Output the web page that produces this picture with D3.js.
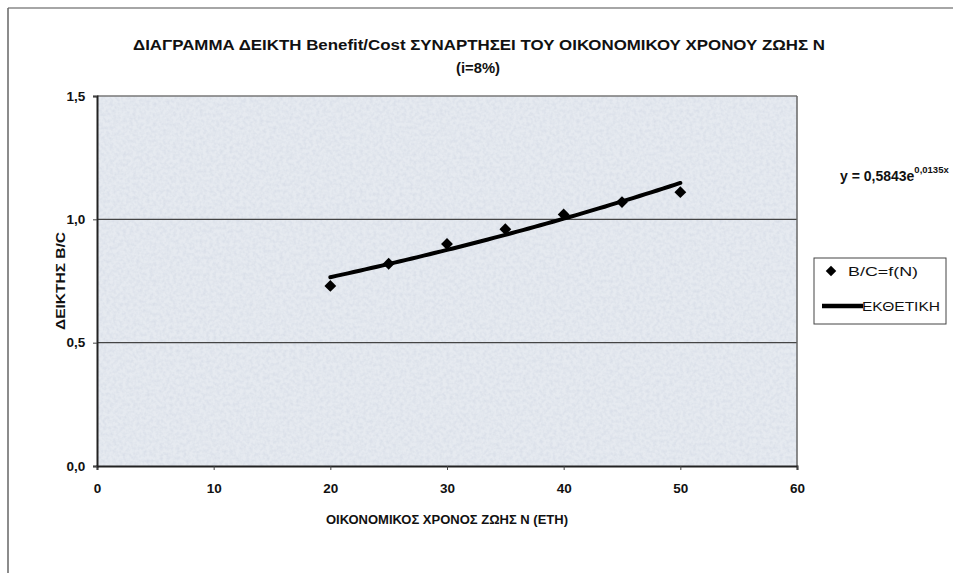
<!DOCTYPE html>
<html><head><meta charset="utf-8">
<script src="https://cdn.jsdelivr.net/npm/d3@7"></script>
<style>
html,body{margin:0;padding:0;background:#fff;}
svg{display:block;font-family:"Liberation Sans",Arial,sans-serif;}
</style></head>
<body>
<svg id="c" width="955" height="573"></svg>
<script>
// Data
const years = [20, 25, 30, 35, 40, 45, 50];
const bcValues = [0.73, 0.82, 0.90, 0.96, 1.02, 1.07, 1.11];
const xTicks = [0, 10, 20, 30, 40, 50, 60];
const yTicks = [0.0, 0.5, 1.0, 1.5];
const trendA = 0.5843;
const trendB = 0.0135;
const titleLines = ["ΔΙΑΓΡΑΜΜΑ ΔΕΙΚΤΗ Benefit/Cost ΣΥΝΑΡΤΗΣΕΙ ΤΟΥ ΟΙΚΟΝΟΜΙΚΟΥ ΧΡΟΝΟΥ ΖΩΗΣ Ν", "(i=8%)"];
const xLabel = "ΟΙΚΟΝΟΜΙΚΟΣ ΧΡΟΝΟΣ ΖΩΗΣ Ν (ΕΤΗ)";
const yLabel = "ΔΕΙΚΤΗΣ B/C";
const legendLabels = ["B/C=f(N)", "ΕΚΘΕΤΙΚΗ"];

const svg = d3.select("#c");
const L = 97, R = 797, T = 96, B = 466;
const x = d3.scaleLinear().domain([0, 60]).range([L, R]);
const y = d3.scaleLinear().domain([0, 1.5]).range([B, T]);
const fmt = d => d3.format(".1f")(d).replace(".", ",");

// outer frame (top + left)
svg.append("line").attr("x1",8).attr("x2",953).attr("y1",8).attr("y2",8).attr("stroke","#888").attr("stroke-width",1.5);
svg.append("line").attr("x1",8).attr("x2",8).attr("y1",8).attr("y2",573).attr("stroke","#666").attr("stroke-width",1.5);

// noise texture
const defs = svg.append("defs");
const f = defs.append("filter").attr("id","noise").attr("x",0).attr("y",0).attr("width","100%").attr("height","100%");
f.append("feTurbulence").attr("type","fractalNoise").attr("baseFrequency","0.3").attr("numOctaves",2).attr("seed",3).attr("result","t");
f.append("feColorMatrix").attr("in","t").attr("type","matrix")
 .attr("values","0 0 0 0 0.6  0 0 0 0 0.65  0 0 0 0 0.75  0 0 0 -1.3 0.85").attr("result","n");
f.append("feComposite").attr("in","n").attr("in2","SourceGraphic").attr("operator","in");

svg.append("rect").attr("x",L).attr("y",T).attr("width",R-L).attr("height",B-T).attr("fill","#e6eaf0");
svg.append("rect").attr("x",L).attr("y",T).attr("width",R-L).attr("height",B-T).attr("fill","#e6eaf0").attr("filter","url(#noise)").attr("opacity",0.7);

// gridlines
svg.append("g").selectAll("line").data(yTicks.filter(v => v > 0)).join("line")
  .attr("x1",L).attr("x2",R).attr("y1",d=>y(d)).attr("y2",d=>y(d))
  .attr("stroke",d => d===1.5 ? "#777" : "#444").attr("stroke-width",1.3);
// right border
svg.append("line").attr("x1",R).attr("x2",R).attr("y1",T).attr("y2",B).attr("stroke","#666").attr("stroke-width",1.5);

// axes
const xAxis = d3.axisBottom(x).tickValues(xTicks).tickSize(4).tickFormat(d3.format("d"));
const gx = svg.append("g").attr("transform",`translate(0,${B})`).call(xAxis);
gx.select(".domain").attr("stroke","#222").attr("stroke-width",2);
gx.selectAll(".tick line").attr("stroke","#444");
gx.selectAll("text").attr("font-size",13.5).attr("font-weight","bold").attr("fill","#111").attr("dy","1.5em");

const yAxis = d3.axisLeft(y).tickValues(yTicks).tickSize(4).tickFormat(fmt);
const gy = svg.append("g").attr("transform",`translate(${L},0)`).call(yAxis);
gy.select(".domain").attr("stroke","#222").attr("stroke-width",2);
gy.selectAll(".tick line").attr("stroke","#444");
gy.selectAll("text").attr("font-size",13.5).attr("font-weight","bold").attr("fill","#111").attr("dx","-0.35em");

// titles
svg.append("text").attr("x",479).attr("y",50).attr("text-anchor","middle").attr("font-size",14).attr("font-weight","bold").attr("fill","#111")
  .attr("textLength",692).attr("lengthAdjust","spacingAndGlyphs").text(titleLines[0]);
svg.append("text").attr("x",478).attr("y",73).attr("text-anchor","middle").attr("font-size",14).attr("font-weight","bold").attr("fill","#111")
  .attr("textLength",44).attr("lengthAdjust","spacingAndGlyphs").text(titleLines[1]);
svg.append("text").attr("x",447).attr("y",524).attr("text-anchor","middle").attr("font-size",13.5).attr("font-weight","bold").attr("fill","#111")
  .attr("textLength",242).attr("lengthAdjust","spacingAndGlyphs").text(xLabel);
svg.append("text").attr("transform","translate(65,281) rotate(-90)").attr("text-anchor","middle").attr("font-size",12.5).attr("font-weight","bold").attr("fill","#111")
  .attr("textLength",98).attr("lengthAdjust","spacingAndGlyphs").text(yLabel);

// trendline
const tx = d3.range(years[0], years[years.length-1] + 0.001, 0.5);
svg.append("path").datum(tx)
  .attr("d", d3.line().x(d=>x(d)).y(d=>y(trendA*Math.exp(trendB*d))))
  .attr("fill","none").attr("stroke","#000").attr("stroke-width",4).attr("stroke-linecap","round");

// markers
svg.append("g").selectAll("path").data(years).join("path")
  .attr("d", d3.symbol().type(d3.symbolSquare).size(70))
  .attr("transform",(d,i)=>`translate(${x(d)},${y(bcValues[i])}) rotate(45)`)
  .attr("fill","#000");

// equation
const eq = svg.append("text").attr("x",840).attr("y",181).attr("font-size",14).attr("font-weight","bold").attr("fill","#111");
eq.append("tspan").text("y = " + String(trendA).replace(".", ",") + "e");
eq.append("tspan").attr("dy",-8).attr("font-size",9.5).text(String(trendB).replace(".", ",") + "x");

// legend
const lg = svg.append("g");
lg.append("rect").attr("x",814).attr("y",258).attr("width",132).attr("height",66).attr("fill","#fff").attr("stroke","#444").attr("stroke-width",1);
lg.append("path").attr("d", d3.symbol().type(d3.symbolSquare).size(55)).attr("transform","translate(831,271) rotate(45)").attr("fill","#000");
lg.append("text").attr("x",848).attr("y",276).attr("font-size",13.5).attr("fill","#111")
  .attr("textLength",70).attr("lengthAdjust","spacingAndGlyphs").text(legendLabels[0]);
lg.append("line").attr("x1",822).attr("x2",863).attr("y1",306).attr("y2",306).attr("stroke","#000").attr("stroke-width",4.5);
lg.append("text").attr("x",862).attr("y",311).attr("font-size",13.5).attr("fill","#111")
  .attr("textLength",78).attr("lengthAdjust","spacingAndGlyphs").text(legendLabels[1]);
</script>
</body></html>
